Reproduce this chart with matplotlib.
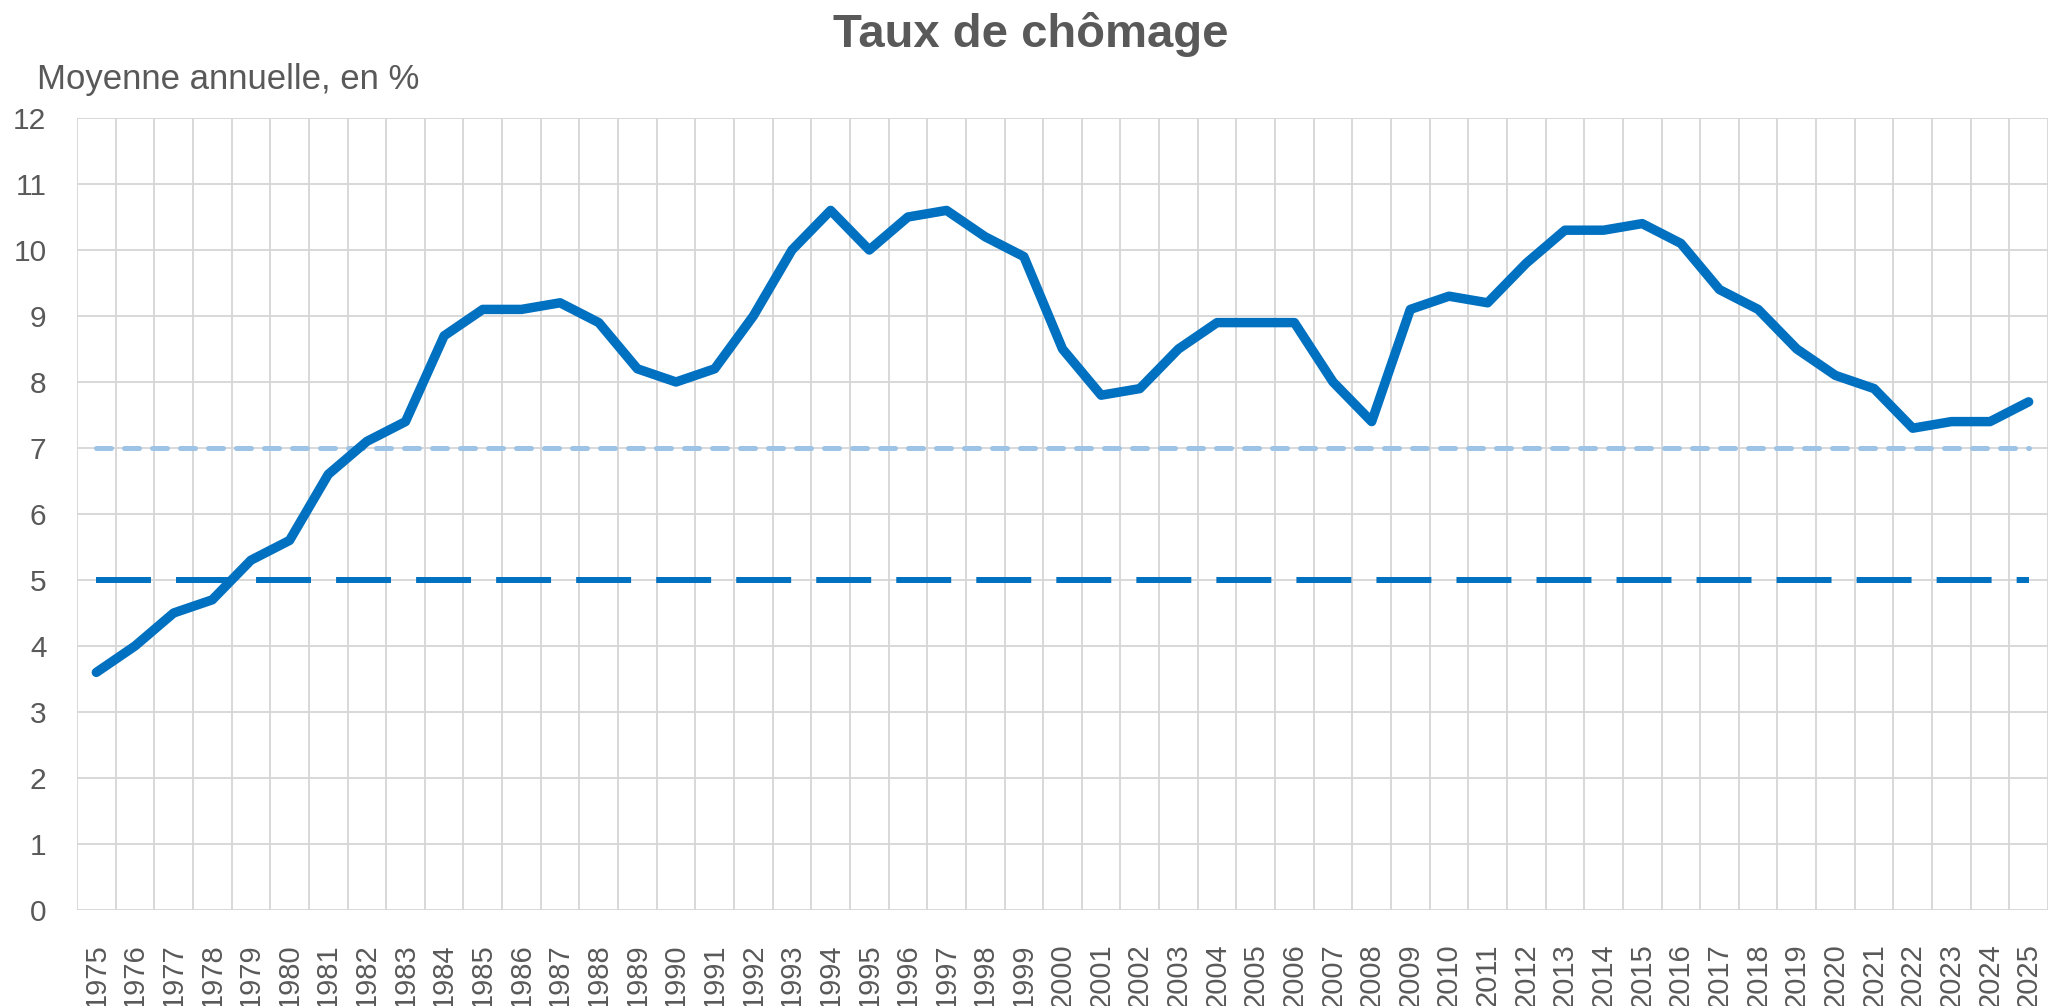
import matplotlib
matplotlib.use("Agg")
import matplotlib.pyplot as plt
import numpy as np

plt.rcParams['font.family'] = ['Liberation Sans', 'DejaVu Sans']

years = [str(y) for y in range(1975, 2026)]
taux = [3.6, 4.0, 4.5, 4.7, 5.3, 5.6, 6.6, 7.1, 7.4, 8.7,
        9.1, 9.1, 9.2, 8.9, 8.2, 8.0, 8.2, 9.0, 10.0, 10.6,
        10.0, 10.5, 10.6, 10.2, 9.9, 8.5, 7.8, 7.9, 8.5, 8.9,
        8.9, 8.9, 8.0, 7.4, 9.1, 9.3, 9.2, 9.8, 10.3, 10.3,
        10.4, 10.1, 9.4, 9.1, 8.5, 8.1, 7.9, 7.3, 7.4, 7.4, 7.7]
seuil_bas = 5
seuil_haut = 7
yticks = list(range(0, 13))

title = "Taux de chômage"
subtitle = "Moyenne annuelle, en %"

TXT = '#595959'
BLUE = '#0070C0'
LIGHT = '#9DC3E6'
GRID = '#D6D6D6'

fig = plt.figure(figsize=(20.5, 10.06), dpi=100)
ax = fig.add_axes([77/2050, 1 - 910/1006, (2048-77)/2050, (910-118)/1006])

x = np.arange(len(years))
ax.set_xlim(-0.5, len(years) - 0.5)
ax.set_ylim(0, 12)

# grid
ax.set_xticks(x)
ax.set_xticks(np.arange(-0.5, len(years)), minor=True)
ax.set_yticks(yticks)
ax.grid(False)
ax.xaxis.grid(True, which='minor', color=GRID, lw=1.3)
ax.yaxis.grid(True, which='major', color=GRID, lw=1.3)
ax.set_axisbelow(True)
for s in ax.spines.values():
    s.set_visible(False)

ax.tick_params(axis='both', which='both', length=0)
ax.tick_params(axis='y', pad=22, labelsize=21.5, labelcolor=TXT)
ax.tick_params(axis='x', pad=24, labelsize=21, labelcolor=TXT)
ax.set_xticklabels(years, rotation=90, ha='center', va='top')
ax.set_yticklabels([str(v) for v in yticks])

# reference lines
ax.plot([x[0], x[-1]], [seuil_haut, seuil_haut], color=LIGHT, lw=3.6,
        dashes=(3.0, 2.6), dash_capstyle='round', zorder=2)
ax.plot([x[0], x[-1]], [seuil_bas, seuil_bas], color=BLUE, lw=4.3,
        dashes=(9.2, 4.2), dash_capstyle='butt', zorder=2)

# main line
ax.plot(x, taux, color=BLUE, lw=6.8, solid_joinstyle='round',
        solid_capstyle='round', zorder=3)

fig.text(1031/2050, 1 - 47/1006, title, ha='center', va='baseline',
         fontsize=34, fontweight='bold', color=TXT)
fig.text(37/2050, 1 - 89/1006, subtitle, ha='left', va='baseline',
         fontsize=25, color=TXT)

fig.savefig('out.png', dpi=100, facecolor='white')
